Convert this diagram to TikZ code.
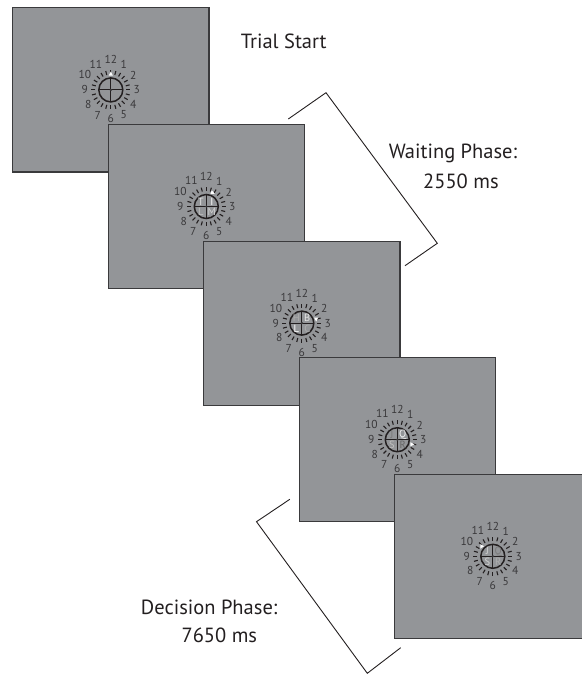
\documentclass[tikz,border=0pt]{standalone}
\usepackage{fontspec}
\setmainfont{PT Sans}
\definecolor{screengray}{HTML}{939598}
\definecolor{framegray}{HTML}{3A3A3C}
\definecolor{numgray}{HTML}{3A393B}
\definecolor{inkblack}{HTML}{231F20}
\tikzset{
  screen/.style={draw=framegray,fill=screengray,line width=1.2pt,anchor=north west,
    minimum width=196.4pt,minimum height=164pt,inner sep=0pt},
  hournum/.style={text=numgray,font=\fontsize{11.5}{11.5}\selectfont,inner sep=0pt},
  dialtick/.style={draw=inkblack,line width=1.1pt},
  dialrim/.style={draw=inkblack,line width=1.5pt},
  letter/.style={font=\fontsize{10.5}{10.5}\selectfont,inner sep=0pt},
  caption/.style={text=inkblack,font=\fontsize{20.5}{20.5}\selectfont,anchor=base west,inner sep=0pt},
  brace/.style={draw=inkblack,line width=0.9pt},
}
\newcommand{\clockface}[1]{%
  \begin{scope}[shift={(#1.center)}]
    \foreach \h in {1,...,9}
      \node[hournum] (#1-h\h) at ({26*cos(30*\h-90)},{29*sin(30*\h-90)}) {\h};
    \foreach \h in {10,11,12}
      \node[hournum] (#1-h\h) at (30*\h-90:30) {\h};
    \foreach \t in {0,15,...,345}
      \draw[dialtick] (\t:15.5) -- (\t:19.5);
    \draw[dialrim] (0,0) circle (12pt);
    \draw[dialrim,line width=1.2pt] (-12,0) -- (12,0) (0,-12) -- (0,12);
    \fill[numgray] (0,0) circle (1.3pt);
  \end{scope}}
\newcommand{\clockmark}[4]{%
  \fill[white,shift={(#1.center)},shift={(#2:#3)}]
    ({#4}:2.8) -- ({#4+120}:2.4) -- ({#4-120}:2.4) -- cycle;}
\newcommand{\quadletters}[9]{%
  \node[letter,text=#3] (#1-tl) at ([shift={(-5.5,-5)}]#1.center) {#2};
  \node[letter,text=#5] (#1-tr) at ([shift={(5.5,-5)}]#1.center) {#4};
  \node[letter,text=#7] (#1-bl) at ([shift={(-5.5,5.5)}]#1.center) {#6};
  \node[letter,text=#9] (#1-br) at ([shift={(5.5,5.5)}]#1.center) {#8};}

\begin{document}
\begin{tikzpicture}[x=1pt,y=-1pt]
  \useasboundingbox (0,0) rectangle (581,674);

  \node[screen] (s1) at (12,7.3) {};
  \clockface{s1}
  \clockmark{s1}{-90}{15.5}{-90}

  \node[screen] (s2) at (107.5,123.9) {};
  \clockface{s2}
  \quadletters{s2}{T}{black!12}{I}{white}{L}{black!25}{M}{black!18}
  \clockmark{s2}{-67}{15}{20}

  \node[screen] (s3) at (203,240.5) {};
  \clockface{s3}
  \quadletters{s3}{H}{black!32}{B}{black!10}{L}{white}{C}{black!32}
  \clockmark{s3}{-17}{15}{90}

  \node[screen] (s4) at (298.5,357.1) {};
  \clockface{s4}
  \quadletters{s4}{J}{black!52}{Q}{black!5}{S}{black!25}{R}{black!60}
  \clockmark{s4}{18}{15}{0}

  \node[screen] (s5) at (394,473.7) {};
  \clockface{s5}
  \quadletters{s5}{J}{black!18}{Q}{black!52}{S}{black!18}{R}{black!32}
  \clockmark{s5}{-138}{15}{120}

  \node[caption] (trial) at (240.6,49) {Trial Start};
  \node[caption] (wait) at (388.6,158.6) {Waiting Phase:};
  \node[caption] (waitms) at (423,188.6) {2550 ms};
  \node[caption] (decide) at (140.7,614) {Decision Phase:};
  \node[caption] (decidems) at (181.4,642) {7650 ms};

  \coordinate (w1) at (288.3,119);
  \coordinate (w2) at (326,92.7);
  \coordinate (w3) at (437.3,243.3);
  \coordinate (w4) at (405,265.7);
  \coordinate (d1) at (289.8,499.3);
  \coordinate (d2) at (256.5,521.7);
  \coordinate (d3) at (367.3,673.3);
  \coordinate (d4) at (400.7,647.7);
  \begin{scope}[brace]
    \draw (w1) -- (w2) -- (w3) -- (w4);
    \draw (d1) -- (d2) -- (d3) -- (d4);
  \end{scope}
\end{tikzpicture}
\end{document}
